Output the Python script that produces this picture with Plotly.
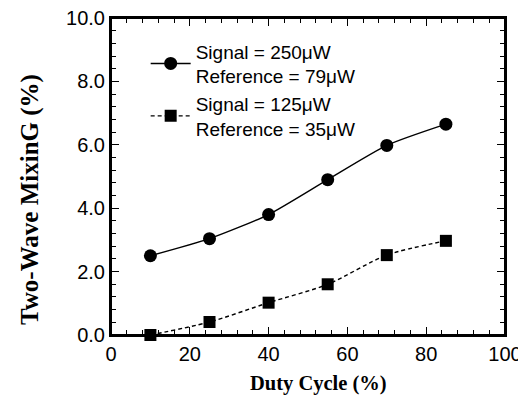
import plotly.graph_objects as go

duty_cycle = [10, 25, 40, 55, 70, 85]
signal_250 = [2.5, 3.04, 3.8, 4.9, 5.98, 6.65]
signal_125 = [0.0, 0.41, 1.02, 1.6, 2.52, 2.97]
name_250 = "Signal = 250μW<br>Reference = 79μW"
name_125 = "Signal = 125μW<br>Reference = 35μW"

# page body has an 8px default margin, so the figure is drawn 8px smaller and offset
W, H = 518, 406
L, T, PW, PH = 103, 10, 394, 317

fig = go.Figure()
fig.add_trace(go.Scatter(x=duty_cycle, y=signal_250, name=name_250, mode="lines+markers",
                         line=dict(color="black", width=1.4, shape="spline", smoothing=0.6),
                         marker=dict(symbol="circle", size=13, color="black"), cliponaxis=False))
fig.add_trace(go.Scatter(x=duty_cycle, y=signal_125, name=name_125, mode="lines+markers",
                         line=dict(color="black", width=1.4, shape="spline", smoothing=0.8, dash="4px,3px"),
                         marker=dict(symbol="square", size=12, color="black"), cliponaxis=False))

axis_common = dict(showline=True, linecolor="black", linewidth=2, mirror="allticks",
                   ticks="inside", ticklen=8, tickwidth=1.3, tickcolor="black",
                   showgrid=False, zeroline=False, automargin=False, ticklabeloverflow="allow",
                   tickfont=dict(family="Liberation Sans, Arial", size=20, color="black"))
fig.update_xaxes(range=[0, 100], dtick=20, tick0=0,
                 minor=dict(ticks="inside", dtick=4, ticklen=5, tickwidth=1.3, tickcolor="black"),
                 **axis_common)
fig.update_yaxes(range=[0, 10], dtick=2, tick0=0, tickformat=".1f",
                 minor=dict(ticks="inside", dtick=0.4, ticklen=5, tickwidth=1.3, tickcolor="black"),
                 **axis_common)

fig.add_shape(type="rect", xref="paper", yref="paper", x0=0, y0=0, x1=1, y1=1,
              line=dict(color="black", width=2), layer="above")

fig.add_annotation(text="<b>Duty Cycle (%)</b>", x=(318 - 111) / PW, y=-(383 - 335) / PH,
                   xref="paper", yref="paper", xanchor="center", yanchor="middle", showarrow=False,
                   font=dict(family="Liberation Serif, Times New Roman", size=20.5, color="black"))
fig.add_annotation(text="<b>Two-Wave MixinG (%)</b>", x=-(111 - 30) / PW, y=(335 - 200) / PH,
                   xref="paper", yref="paper", xanchor="center", yanchor="middle", showarrow=False,
                   textangle=-90,
                   font=dict(family="Liberation Serif, Times New Roman", size=25, color="black"))

fig.update_layout(width=W, height=H, margin=dict(l=L, r=W - L - PW, t=T, b=H - T - PH, autoexpand=False),
                  paper_bgcolor="white", plot_bgcolor="white", showlegend=True,
                  legend=dict(x=0.088, y=0.955, xanchor="left", yanchor="top",
                              bgcolor="rgba(0,0,0,0)",
                              font=dict(family="Liberation Sans, Arial", size=19, color="black"),
                              tracegroupgap=0, itemwidth=40))

fig.write_html("out.html")
